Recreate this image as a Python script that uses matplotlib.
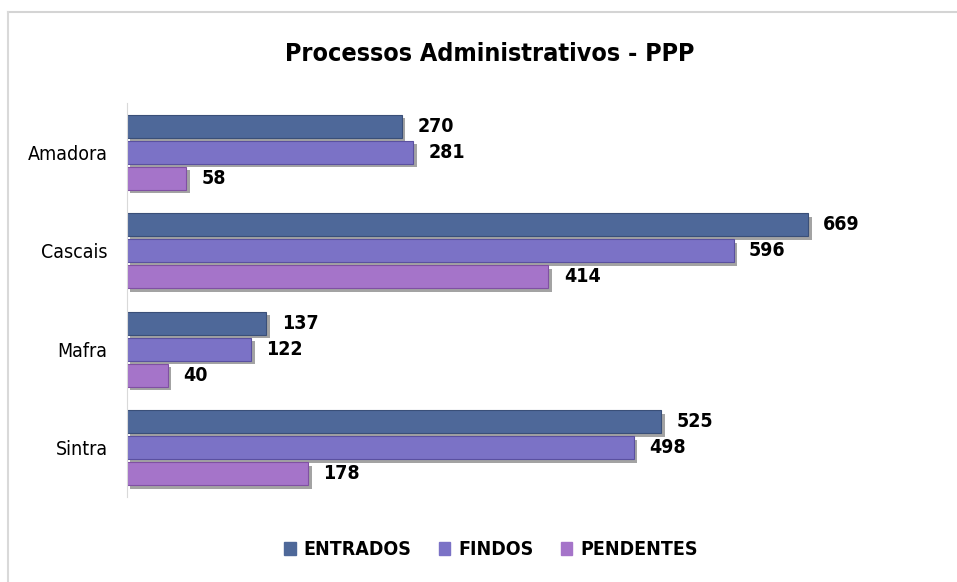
import numpy as np
import matplotlib
matplotlib.use("Agg")
import matplotlib.pyplot as plt
import matplotlib.patheffects as pe
from matplotlib.lines import Line2D

plt.rcParams['font.family'] = ['DejaVu Sans']
plt.rcParams['font.stretch'] = 'condensed'

categories = ["Amadora", "Cascais", "Mafra", "Sintra"]
series = ["ENTRADOS", "FINDOS", "PENDENTES"]
entrados = [270, 669, 137, 525]
findos = [281, 596, 122, 498]
pendentes = [58, 414, 40, 178]
colors = ["#4e6899", "#7b72c6", "#a574c9"]
edges = ["#3a4f78", "#5a50a0", "#8050a3"]

fig = plt.figure(figsize=(9.57, 5.82), dpi=100)
ax = fig.add_axes([0.1327, 0.146, 0.851, 0.677])

y = np.arange(len(categories))
step = 0.265
h = 0.235
shadow = [pe.SimplePatchShadow(offset=(2.5, -2.5), shadow_rgbFace="#333333", alpha=0.45), pe.Normal()]
for i, (name, vals) in enumerate(zip(series, [entrados, findos, pendentes])):
    bars = ax.barh(y + (i - 1) * step, vals, height=h, color=colors[i],
                   edgecolor=edges[i], linewidth=0.8, label=name)
    for b in bars:
        b.set_path_effects(shadow)
    for b, v in zip(bars, vals):
        ax.annotate(str(v), (v, b.get_y() + b.get_height() / 2), xytext=(11, 0),
                    textcoords="offset points", va="center", ha="left",
                    fontsize=14, fontweight="bold")

ax.set_xlim(0, 800)
ax.set_ylim(3.5, -0.5)
ax.set_yticks(y)
ax.set_yticklabels(categories, fontsize=14)
ax.tick_params(axis="y", length=0, pad=14)
ax.set_xticks([])
for s in ["top", "right", "bottom"]:
    ax.spines[s].set_visible(False)
ax.spines["left"].set_color("#d9d9d9")

fig.text(0.512, 0.908, "Processos Administrativos - PPP", ha="center", va="center",
         fontsize=18, fontweight="bold")

handles = [plt.Rectangle((0, 0), 1, 1, color=c) for c in colors]
fig.legend(handles, series, loc="center", bbox_to_anchor=(0.513, 0.055), ncol=3,
           frameon=False, handlelength=0.6, handleheight=0.6, handletextpad=0.4,
           columnspacing=1.4, prop={"weight": "bold", "size": 14, "stretch": "condensed"})

# outer frame (top and left only)
fig.add_artist(Line2D([0.008, 1.0], [1 - 12 / 582, 1 - 12 / 582], color="#d4d4d4", lw=1.5))
fig.add_artist(Line2D([0.008, 0.008], [0, 1 - 12 / 582], color="#d9d9d9", lw=1.5))

fig.savefig("out.png", dpi=100)
